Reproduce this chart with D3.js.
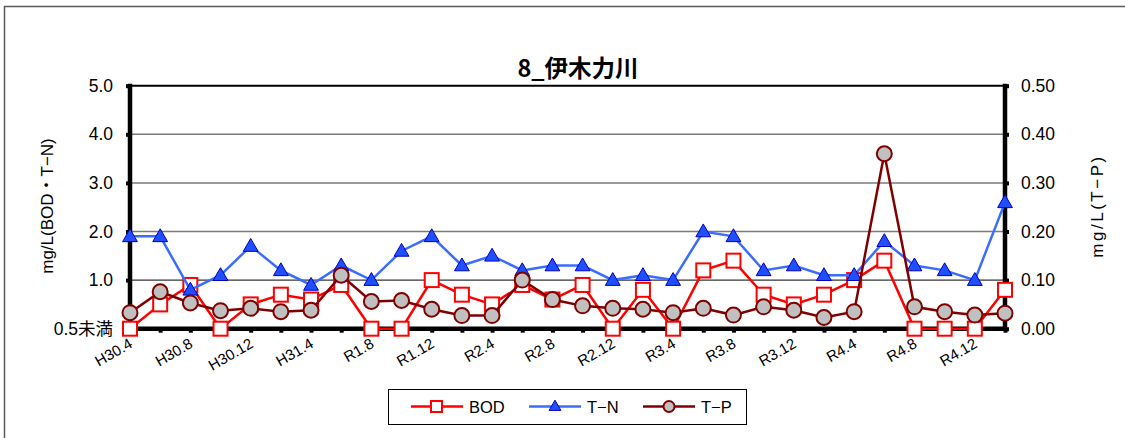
<!DOCTYPE html>
<html><head><meta charset="utf-8">
<script src="https://cdn.jsdelivr.net/npm/d3@7"></script>
<style>
html,body{margin:0;padding:0;background:#fff;}
svg{display:block;font-family:"Liberation Sans",Arial,"Noto Sans CJK JP",sans-serif;}
</style></head>
<body><svg id="c" width="1125" height="438"></svg>
<script>
const categories = ["H30.4","H30.6","H30.8","H30.10","H30.12","H31.2","H31.4","R1.6","R1.8","R1.10","R1.12","R2.2","R2.4","R2.6","R2.8","R2.10","R2.12","R3.2","R3.4","R3.6","R3.8","R3.10","R3.12","R4.2","R4.4","R4.6","R4.8","R4.10","R4.12","R5.2"];
// BOD: values below 0.5 (0.5未満) plotted at 0
const bod = [0,0.5,0.9,0,0.5,0.7,0.6,0.9,0,0,1.0,0.7,0.5,0.9,0.6,0.9,0,0.8,0,1.2,1.4,0.7,0.5,0.7,1.0,1.4,0,0,0,0.8];
const tn  = [1.9,1.9,0.8,1.1,1.7,1.2,0.9,1.3,1.0,1.6,1.9,1.3,1.5,1.2,1.3,1.3,1.0,1.1,1.0,2.0,1.9,1.2,1.3,1.1,1.1,1.8,1.3,1.2,1.0,2.6];
const tp  = [0.033,0.076,0.053,0.037,0.042,0.035,0.038,0.11,0.056,0.058,0.040,0.027,0.027,0.10,0.060,0.047,0.042,0.040,0.033,0.042,0.028,0.045,0.038,0.023,0.035,0.36,0.045,0.035,0.028,0.032];
const leftTicks = [0,1,2,3,4,5];
const leftTickLabels = ["0.5未満","1.0","2.0","3.0","4.0","5.0"];
const rightTicks = [0,0.1,0.2,0.3,0.4,0.5];
const rightTickLabels = ["0.00","0.10","0.20","0.30","0.40","0.50"];
const title = "8_伊木力川";
const leftTitle = "mg/L(BOD・T−N)";
const rightTitle = "mg/L(T−P)";

const svg = d3.select("#c");
const L = 130, R = 1005, T = 85.7, B = 328.7;
const x = d3.scalePoint().domain(categories).range([L, R]);
const yL = d3.scaleLinear().domain([0,5]).range([B, T]);
const yR = d3.scaleLinear().domain([0,0.5]).range([B, T]);

// outer frame
svg.append("rect").attr("x",4.5).attr("y",6.5).attr("width",1200).attr("height",600)
  .attr("fill","none").attr("stroke","#5a5a5a").attr("stroke-width",1.5);

// title
svg.append("text").attr("x",578).attr("y",77).attr("text-anchor","middle")
  .attr("font-size",23.5).attr("font-weight","bold").attr("font-family","'Noto Sans CJK JP',sans-serif").text(title);

// gridlines
leftTicks.forEach(v => {
  if (v === 0) return;
  const g = svg.append("line").attr("x1",L).attr("x2",R).attr("y1",yL(v)).attr("y2",yL(v));
  if (v === 5) g.attr("stroke","#000").attr("stroke-width",2);
  else if (v === 1) g.attr("stroke","#000").attr("stroke-width",1);
  else g.attr("stroke","#7a7a7a").attr("stroke-width",1.5);
});

// axes
const axL = d3.axisLeft(yL).tickValues(leftTicks).tickFormat((d,i)=>leftTickLabels[i]).tickSize(4).tickPadding(13);
const gL = svg.append("g").attr("transform",`translate(${L},0)`).call(axL);
const axR = d3.axisRight(yR).tickValues(rightTicks).tickFormat((d,i)=>rightTickLabels[i]).tickSize(4).tickPadding(12);
const gR = svg.append("g").attr("transform",`translate(${R},0)`).call(axR);
const axB = d3.axisBottom(x).tickSize(4).tickFormat((d,i)=> i%2===0 ? d : "");
const gB = svg.append("g").attr("transform",`translate(0,${B})`).call(axB);
[gL,gR,gB].forEach(g=>{
  g.select(".domain").attr("stroke","#000").attr("stroke-width",4.5);
  g.selectAll(".tick line").attr("stroke","#000").attr("stroke-width",4);
});
gB.select(".domain").attr("d",`M${L-2},0H${R+2}`);
gL.select(".domain").attr("d",`M0,${T-2}V${B+2}`);
gR.select(".domain").attr("d",`M0,${T-2}V${B+2}`);
gL.selectAll(".tick text").attr("font-size",17.5).attr("fill","#000").attr("font-family","'Liberation Sans','Noto Sans CJK JP',sans-serif");
gR.selectAll(".tick text").attr("font-size",17.5).attr("fill","#000");
gB.selectAll(".tick text").attr("font-size",15).attr("fill","#000")
  .attr("text-anchor","end").attr("dy",0).attr("y",0)
  .attr("transform","translate(3,18) rotate(-30)");

// axis titles
svg.append("text").attr("transform","translate(53,206) rotate(-90)").attr("text-anchor","middle")
  .attr("font-size",17).attr("font-family","'Liberation Sans','Noto Sans CJK JP',sans-serif").text(leftTitle);
svg.append("text").attr("transform","translate(1103,206) rotate(-90)").attr("text-anchor","middle")
  .attr("font-size",17).attr("letter-spacing",2.5).attr("font-family","'Liberation Sans','Noto Sans CJK JP',sans-serif").text(rightTitle);

// series
const tri = d3.symbol().type(d3.symbolTriangle).size(95);
function drawSeries(data, yScale, color, kind){
  const g = svg.append("g");
  g.append("path").datum(data).attr("fill","none").attr("stroke",color).attr("stroke-width",2.5)
    .attr("d", d3.line().x((d,i)=>x(categories[i])).y(d=>yScale(d)));
  data.forEach((d,i)=>drawMarker(g, x(categories[i]), yScale(d), kind));
}
function drawMarker(g, cx, cy, kind){
  if (kind==="sq") g.append("rect").attr("x",cx-7).attr("y",cy-7).attr("width",14).attr("height",14)
      .attr("fill","#fff").attr("stroke","#ff0000").attr("stroke-width",2);
  else if (kind==="tri") g.append("path").attr("d",tri()).attr("transform",`translate(${cx},${cy+1})`)
      .attr("fill","#1f4fff").attr("stroke","#0000c0").attr("stroke-width",1);
  else g.append("circle").attr("cx",cx).attr("cy",cy).attr("r",7.5)
      .attr("fill","#c0c0c0").attr("stroke","#800000").attr("stroke-width",2);
}
drawSeries(bod, yL, "#ff0000", "sq");
drawSeries(tn, yL, "#3c6cff", "tri");
drawSeries(tp, yR, "#800000", "circ");

// legend
const lg = svg.append("g");
lg.append("rect").attr("x",388.5).attr("y",389.5).attr("width",358).attr("height",35)
  .attr("fill","#fff").attr("stroke","#000").attr("stroke-width",1);
const items = [{name:"BOD",color:"#ff0000",kind:"sq",x:411},{name:"T−N",color:"#3c6cff",kind:"tri",x:529},{name:"T−P",color:"#800000",kind:"circ",x:643}];
items.forEach(it=>{
  lg.append("line").attr("x1",it.x).attr("x2",it.x+52).attr("y1",406.5).attr("y2",406.5).attr("stroke",it.color).attr("stroke-width",2.5);
  if (it.kind==="sq") lg.append("rect").attr("x",it.x+20).attr("y",401).attr("width",11).attr("height",11).attr("fill","#fff").attr("stroke","#ff0000").attr("stroke-width",2);
  else if (it.kind==="tri") lg.append("path").attr("d",d3.symbol().type(d3.symbolTriangle).size(60)()).attr("transform",`translate(${it.x+26},407)`).attr("fill","#1f4fff").attr("stroke","#0000c0");
  else lg.append("circle").attr("cx",it.x+26).attr("cy",406.5).attr("r",5.5).attr("fill","#c0c0c0").attr("stroke","#800000").attr("stroke-width",2);
  lg.append("text").attr("x",it.x+58).attr("y",412.5).attr("font-size",16.5).text(it.name);
});
</script></body></html>
